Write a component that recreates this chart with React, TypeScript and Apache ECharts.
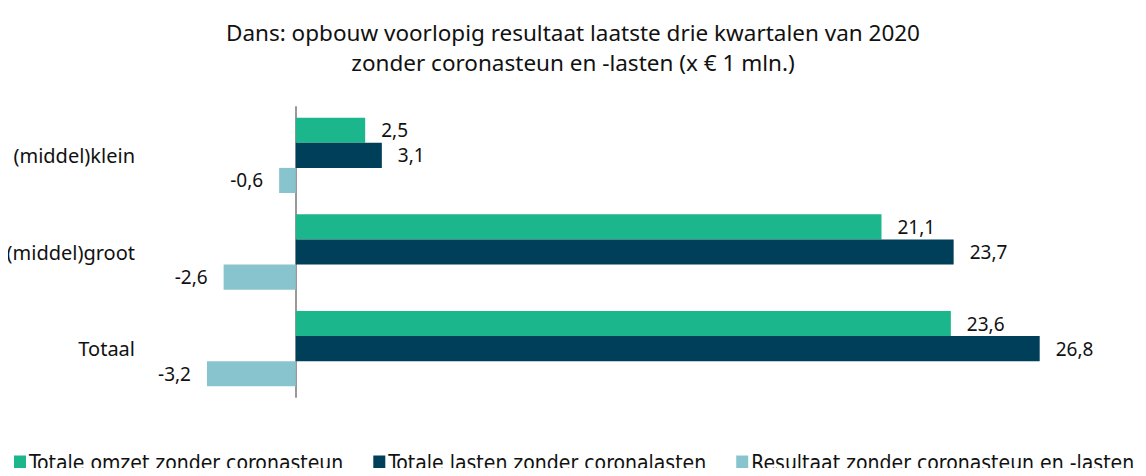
import React, { useEffect, useRef } from "react";
import * as echarts from "echarts";

const categories = ["(middel)klein", "(middel)groot", "Totaal"];
const seriesNames = [
  "Totale omzet zonder coronasteun",
  "Totale lasten zonder coronalasten",
  "Resultaat zonder coronasteun en -lasten",
];
const omzet = [2.5, 21.1, 23.6];
const lasten = [3.1, 23.7, 26.8];
const resultaat = [-0.6, -2.6, -3.2];
const colors = ["#1BB68C", "#003F5A", "#88C4CE"];

const fmt = (p: any) => String(p.value).replace(".", ",");

export default function App() {
  const ref = useRef<HTMLDivElement>(null);
  useEffect(() => {
    const chart = echarts.init(ref.current!, null, { renderer: "svg" });
    const font = "'Noto Sans', Lato, sans-serif";
    const mk = (name: string, data: number[], color: string, pos: string) => ({
      name,
      type: "bar",
      data,
      barGap: "0%",
      barCategoryGap: "22%",
      itemStyle: { color },
      label: {
        show: true,
        position: pos,
        distance: 16,
        formatter: fmt,
        color: "#111",
        fontSize: 19,
        fontFamily: font,
      },
    });
    chart.setOption({
      animation: false,
      textStyle: { fontFamily: font },
      title: {
        text: "Dans: opbouw voorlopig resultaat laatste drie kwartalen van 2020\nzonder coronasteun en -lasten (x € 1 mln.)",
        left: "center",
        top: 12,
        textStyle: {
          fontSize: 22.5,
          fontWeight: "normal",
          color: "#111",
          lineHeight: 30,
          fontFamily: font,
        },
      },
      legend: {
        top: 452,
        left: 14,
        width: 1132,
        padding: 0,
        itemWidth: 12,
        itemHeight: 14,
        itemGap: 30,
        icon: "rect",
        textStyle: {
          fontSize: 21,
          color: "#111",
          fontFamily: "'Liberation Sans Narrow', 'DejaVu Sans Condensed', sans-serif",
          padding: [0, 0, 0, -2],
        },
        data: seriesNames,
      },
      grid: { left: 157, right: 73, top: 107, bottom: 79, containLabel: false },
      xAxis: {
        type: "value",
        min: -5,
        max: 28,
        axisLabel: { show: false },
        splitLine: { show: false },
        axisLine: { show: false },
        axisTick: { show: false },
      },
      yAxis: {
        type: "category",
        data: categories,
        inverse: true,
        axisTick: { show: false },
        axisLine: { show: true, onZero: true, lineStyle: { color: "#999", width: 2 } },
        axisLabel: { fontSize: 20, color: "#111", margin: 22, fontFamily: font },
      },
      series: [
        mk(seriesNames[0], omzet, colors[0], "right"),
        mk(seriesNames[1], lasten, colors[1], "right"),
        mk(seriesNames[2], resultaat, colors[2], "left"),
      ],
    });
    return () => chart.dispose();
  }, []);
  return <div ref={ref} style={{ width: 1146, height: 476, margin: -8 }} />;
}
